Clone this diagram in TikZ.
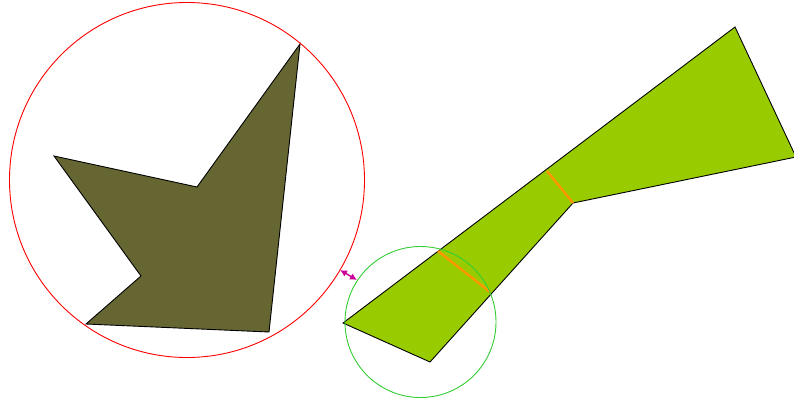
\documentclass[tikz,border=0pt]{standalone}
\usetikzlibrary{arrows.meta}
\definecolor{olive}{RGB}{102,102,51}
\definecolor{lime}{RGB}{153,204,0}
\definecolor{ring}{RGB}{255,0,0}
\definecolor{gring}{RGB}{51,204,51}
\definecolor{orng}{RGB}{255,153,0}
\definecolor{mag}{RGB}{204,0,153}
\tikzset{
  outline/.style={draw=black, line width=0.9pt, line join=miter},
  cutline/.style={draw=orng, line width=2.5pt},
  arr/.style={draw=mag, line width=1.4pt, {Latex[length=7pt,width=7pt]}-{Latex[length=7pt,width=7pt]}}
}
\begin{document}
\begin{tikzpicture}[x=1pt,y=-1pt]
\useasboundingbox (0,0) rectangle (794,401);
% left polygon
\fill[olive] (300,44) -- (269,332) -- (86,324) -- (141,276) -- (54,156) -- (197,187) -- cycle;
\draw[outline] (300,44) -- (269,332) -- (86,324) -- (141,276) -- (54,156) -- (197,187) -- cycle;
\draw[ring, line width=0.9pt] (187,180) circle[radius=177.5];
% right polygon
\fill[lime] (343,323) -- (735,27) -- (796,157) -- (573,203) -- (430,362) -- cycle;
\draw[outline] (343,323) -- (735,27) -- (796,157) -- (573,203) -- (430,362) -- cycle;
\draw[cutline] (438,251) -- (490,292);
\draw[cutline] (547,171) -- (573,203);
\draw[gring, line width=0.9pt] (420.5,322) circle[radius=75.5];
% arrow
\coordinate (a1) at (340,270);
\coordinate (a2) at (357,280);
\draw[arr] (a1) -- (a2);
\end{tikzpicture}
\end{document}
